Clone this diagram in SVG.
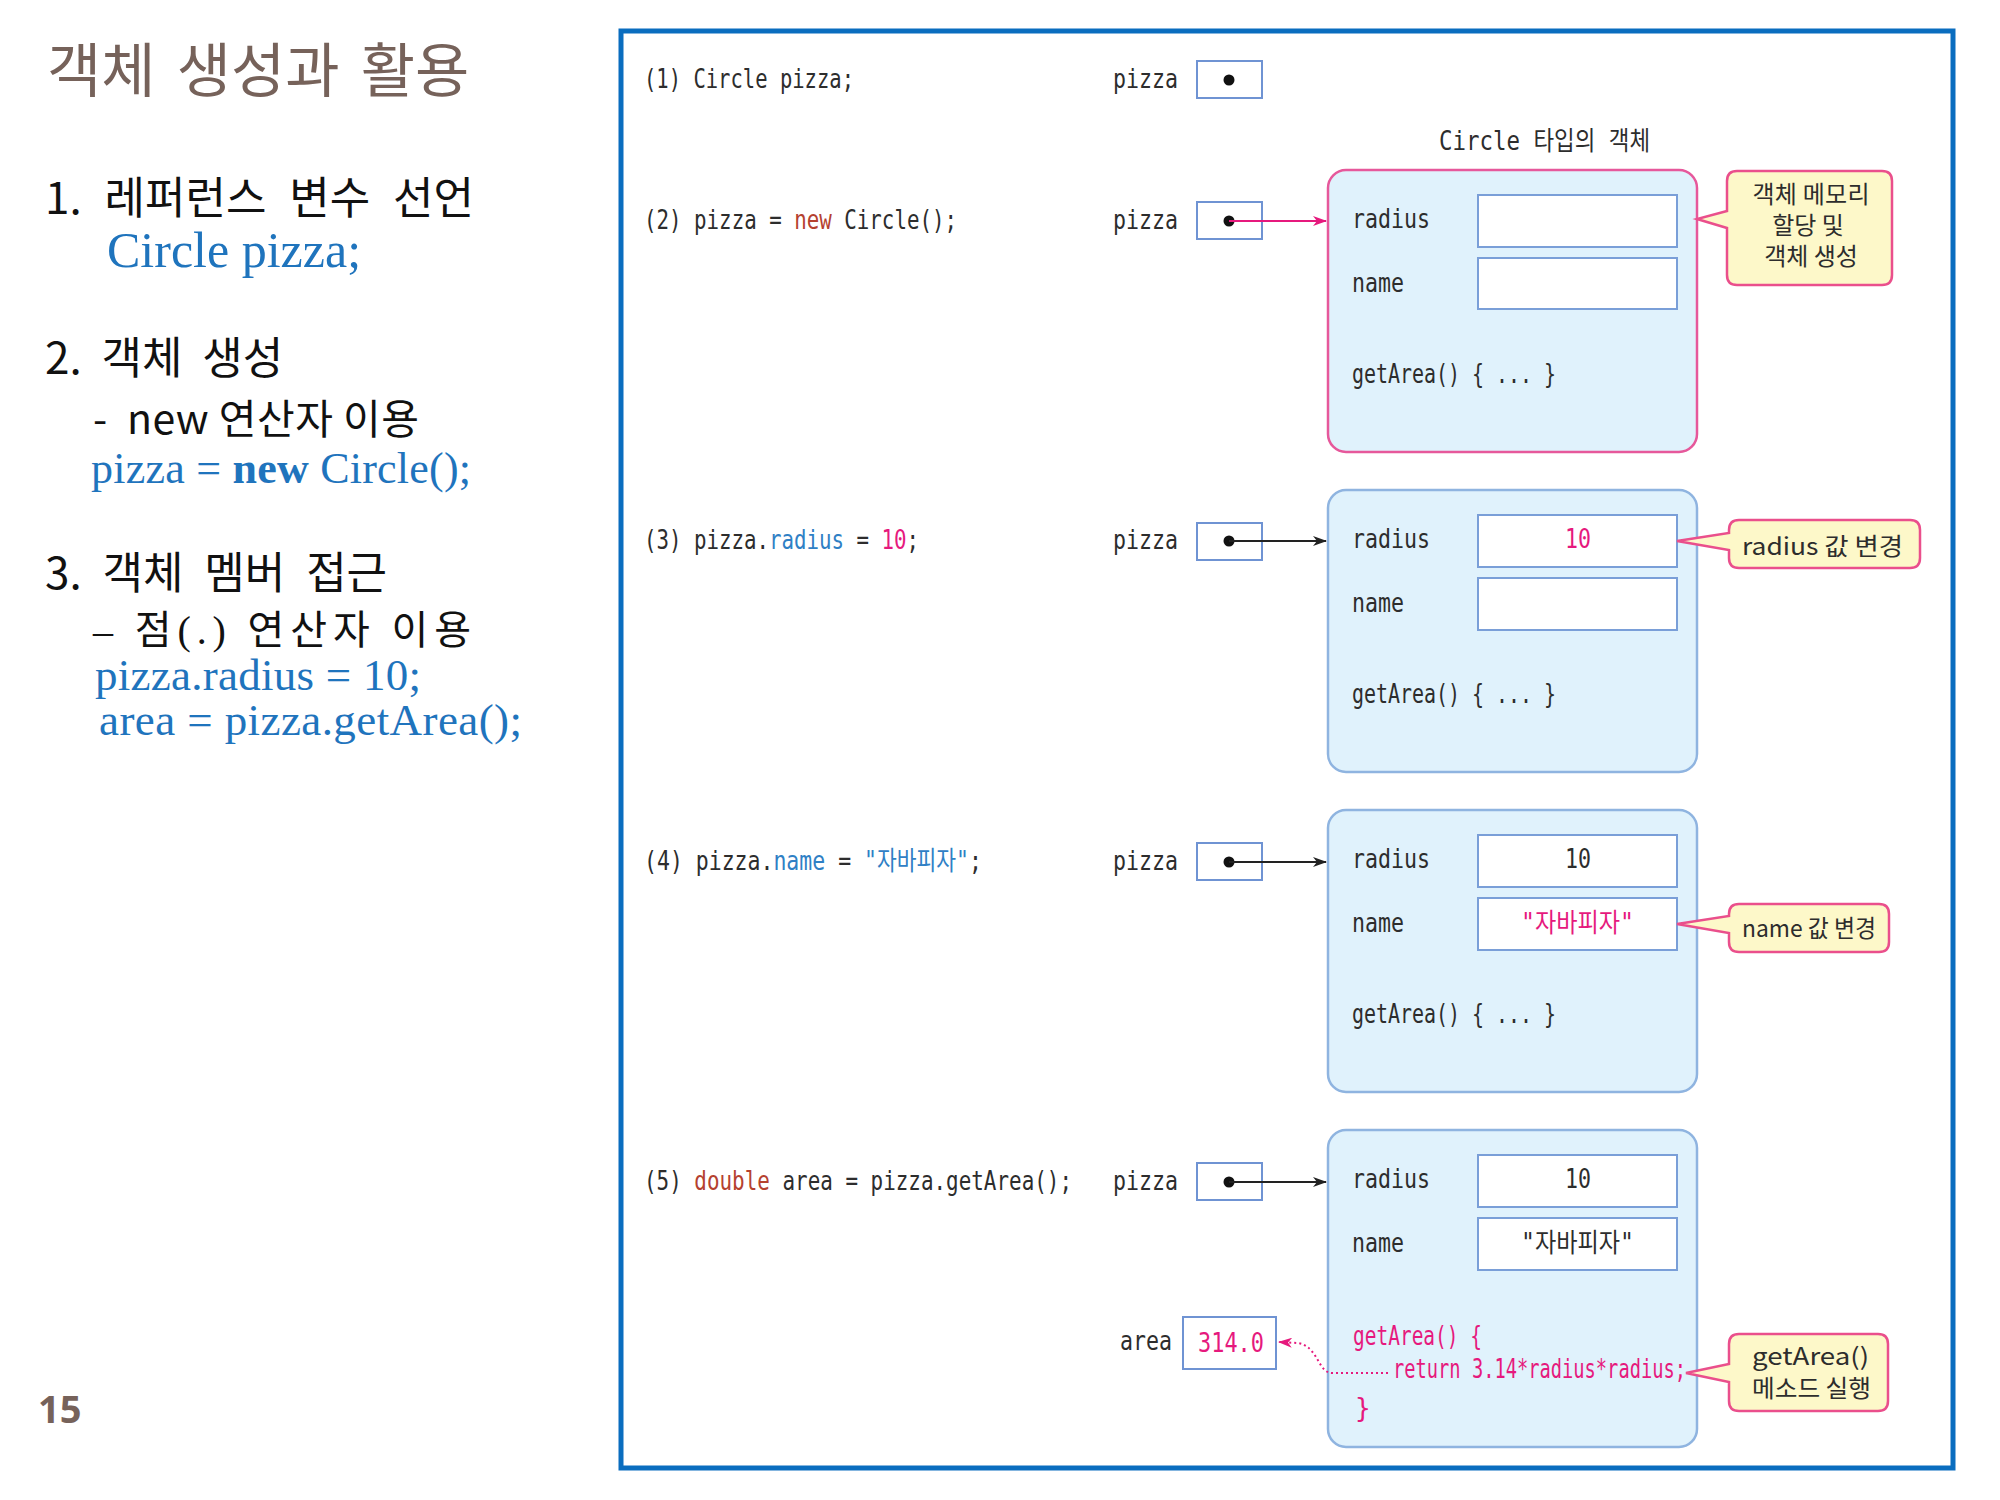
<svg xmlns="http://www.w3.org/2000/svg" width="2000" height="1500" viewBox="0 0 2000 1500">
<defs>
<style>
.title{font-family:"Noto Sans CJK KR","Noto Sans",sans-serif;font-size:59px;fill:#76625a}
.h{font-family:"Noto Sans CJK KR","Noto Sans",sans-serif;font-size:44px;fill:#111}
.sub{font-family:"Noto Sans CJK KR","Noto Sans",sans-serif;font-size:41px;fill:#111}
.subs{font-family:"Liberation Serif","Noto Sans CJK KR",serif;font-size:40px;fill:#111}
.jb{font-family:"Liberation Serif",serif;fill:#1f74bd}
.pg{font-family:"Noto Sans","Liberation Sans",sans-serif;font-size:38px;font-weight:bold;fill:#76625a}
.code{font-family:"DejaVu Sans Mono","Noto Sans CJK KR",monospace;font-size:26px;fill:#2d2d2d}
.ko{font-family:"Noto Sans CJK KR",sans-serif;font-size:24px;fill:#2d2d2d}
.kw{fill:#b5412f}
.fld{fill:#2f80c5}
.val{fill:#e6197d}
.ptr{fill:#fff;stroke:#6f93d3;stroke-width:2}
.field{fill:#fff;stroke:#7a9fd8;stroke-width:2}
.obj{fill:#e0f2fc;stroke:#8fb4e0;stroke-width:2.5}
.objnew{fill:#e0f2fc;stroke:#e6589b;stroke-width:2.5}
.call{fill:#fdf8c9;stroke:#ea4f8c;stroke-width:2.5}
</style>
<marker id="ahk" viewBox="0 0 14 10" refX="13" refY="5" markerWidth="14" markerHeight="10" markerUnits="userSpaceOnUse" orient="auto">
<path d="M0,0 L14,5 L0,10 L4,5 Z" fill="#222"/>
</marker>
<marker id="ahp" viewBox="0 0 14 10" refX="13" refY="5" markerWidth="14" markerHeight="10" markerUnits="userSpaceOnUse" orient="auto">
<path d="M0,0 L14,5 L0,10 L4,5 Z" fill="#e6197d"/>
</marker>
</defs>
<rect width="2000" height="1500" fill="#fff"/>

<g id="left-panel">
<text class="title" x="47" y="92" word-spacing="8">객체 생성과 활용</text>
<text class="h" x="45" y="214" word-spacing="13">1. 레퍼런스 변수 선언</text>
<text class="jb" x="107" y="267" font-size="50">Circle pizza;</text>
<text class="h" x="45" y="374" word-spacing="10">2. 객체 생성</text>
<text class="sub" x="93" y="434" textLength="326" xml:space="preserve">-  new 연산자 이용</text>
<text class="jb" x="91" y="483" font-size="44" textLength="380">pizza = <tspan font-weight="bold">new</tspan> Circle();</text>
<text class="h" x="45" y="589" word-spacing="11">3. 객체 멤버 접근</text>
<text class="subs" x="93" y="644" textLength="378">– 점(.) 연산자 이용</text>
<text class="jb" x="95" y="690" font-size="45" textLength="326">pizza.radius = 10;</text>
<text class="jb" x="99" y="735" font-size="45" textLength="423">area = pizza.getArea();</text>
<text class="pg" x="38" y="1423">15</text>
</g>

<rect id="frame" x="621" y="31" width="1332" height="1437" fill="none" stroke="#0a6dbf" stroke-width="5"/>

<g id="statements">
<text class="code" x="644" y="88" textLength="210" lengthAdjust="spacingAndGlyphs">(1) Circle pizza;</text>
<text class="code" x="644" y="229" textLength="313" lengthAdjust="spacingAndGlyphs">(2) pizza = <tspan class="kw">new</tspan> Circle();</text>
<text class="code" x="644" y="549" textLength="275" lengthAdjust="spacingAndGlyphs">(3) pizza.<tspan class="fld">radius</tspan> = <tspan class="val">10</tspan>;</text>
<text class="code" x="644" y="870" textLength="338" lengthAdjust="spacingAndGlyphs">(4) pizza.<tspan class="fld">name</tspan> = <tspan class="fld">"자바피자"</tspan>;</text>
<text class="code" x="644" y="1190" textLength="428" lengthAdjust="spacingAndGlyphs">(5) <tspan class="kw">double</tspan> area = pizza.getArea();</text>
</g>

<g id="ref1">
<text class="code" x="1113" y="88" textLength="65" lengthAdjust="spacingAndGlyphs">pizza</text>
<rect class="ptr" x="1197" y="61" width="65" height="37"/>
<circle cx="1229" cy="80" r="5.5" fill="#111"/>
</g>
<g id="ref2">
<text class="code" x="1113" y="229" textLength="65" lengthAdjust="spacingAndGlyphs">pizza</text>
<rect class="ptr" x="1197" y="202" width="65" height="37"/>
<circle cx="1229" cy="221" r="5.5" fill="#111"/>
</g>
<g id="ref3">
<text class="code" x="1113" y="549" textLength="65" lengthAdjust="spacingAndGlyphs">pizza</text>
<rect class="ptr" x="1197" y="523" width="65" height="37"/>
<circle cx="1229" cy="541" r="5.5" fill="#111"/>
</g>
<g id="ref4">
<text class="code" x="1113" y="870" textLength="65" lengthAdjust="spacingAndGlyphs">pizza</text>
<rect class="ptr" x="1197" y="843" width="65" height="37"/>
<circle cx="1229" cy="862" r="5.5" fill="#111"/>
</g>
<g id="ref5">
<text class="code" x="1113" y="1190" textLength="65" lengthAdjust="spacingAndGlyphs">pizza</text>
<rect class="ptr" x="1197" y="1163" width="65" height="37"/>
<circle cx="1229" cy="1182" r="5.5" fill="#111"/>
</g>
<g id="area-var">
<text class="code" x="1120" y="1350" textLength="52" lengthAdjust="spacingAndGlyphs">area</text>
<rect class="ptr" x="1183" y="1317" width="93" height="52"/>
<text class="code val" x="1198" y="1352" textLength="66" lengthAdjust="spacingAndGlyphs">314.0</text>
</g>

<text class="code" x="1439" y="150" textLength="211" lengthAdjust="spacingAndGlyphs">Circle 타입의 객체</text>

<g id="obj1">
<rect class="objnew" x="1328" y="170" width="369" height="282" rx="18"/>
<text class="code" x="1352" y="228" textLength="78" lengthAdjust="spacingAndGlyphs">radius</text>
<rect class="field" x="1478" y="195" width="199" height="52"/>
<text class="code" x="1352" y="292" textLength="52" lengthAdjust="spacingAndGlyphs">name</text>
<rect class="field" x="1478" y="258" width="199" height="51"/>
<text class="code" x="1352" y="383" textLength="204" lengthAdjust="spacingAndGlyphs">getArea() { ... }</text>
</g>
<g id="obj2">
<rect class="obj" x="1328" y="490" width="369" height="282" rx="18"/>
<text class="code" x="1352" y="548" textLength="78" lengthAdjust="spacingAndGlyphs">radius</text>
<rect class="field" x="1478" y="515" width="199" height="52"/>
<text class="code val" x="1565" y="548" textLength="26" lengthAdjust="spacingAndGlyphs">10</text>
<text class="code" x="1352" y="612" textLength="52" lengthAdjust="spacingAndGlyphs">name</text>
<rect class="field" x="1478" y="578" width="199" height="52"/>
<text class="code" x="1352" y="703" textLength="204" lengthAdjust="spacingAndGlyphs">getArea() { ... }</text>
</g>
<g id="obj3">
<rect class="obj" x="1328" y="810" width="369" height="282" rx="18"/>
<text class="code" x="1352" y="868" textLength="78" lengthAdjust="spacingAndGlyphs">radius</text>
<rect class="field" x="1478" y="835" width="199" height="52"/>
<text class="code" x="1565" y="868" textLength="26" lengthAdjust="spacingAndGlyphs">10</text>
<text class="code" x="1352" y="932" textLength="52" lengthAdjust="spacingAndGlyphs">name</text>
<rect class="field" x="1478" y="898" width="199" height="52"/>
<text class="code val" x="1521" y="932" textLength="113" lengthAdjust="spacingAndGlyphs">"자바피자"</text>
<text class="code" x="1352" y="1023" textLength="204" lengthAdjust="spacingAndGlyphs">getArea() { ... }</text>
</g>
<g id="obj4">
<rect class="obj" x="1328" y="1130" width="369" height="317" rx="18"/>
<text class="code" x="1352" y="1188" textLength="78" lengthAdjust="spacingAndGlyphs">radius</text>
<rect class="field" x="1478" y="1155" width="199" height="52"/>
<text class="code" x="1565" y="1188" textLength="26" lengthAdjust="spacingAndGlyphs">10</text>
<text class="code" x="1352" y="1252" textLength="52" lengthAdjust="spacingAndGlyphs">name</text>
<rect class="field" x="1478" y="1218" width="199" height="52"/>
<text class="code" x="1521" y="1252" textLength="113" lengthAdjust="spacingAndGlyphs">"자바피자"</text>
<text class="code val" x="1353" y="1345" textLength="129" lengthAdjust="spacingAndGlyphs">getArea() {</text>
<text class="code val" x="1393" y="1378" textLength="293" lengthAdjust="spacingAndGlyphs">return 3.14*radius*radius;</text>
<text class="code val" x="1355" y="1417">}</text>
</g>

<g id="callouts">
<g id="call1">
<path class="call" d="M1737,171 H1882 Q1892,171 1892,181 V275 Q1892,285 1882,285 H1737 Q1727,285 1727,275 V228 L1697,219 L1727,211 V181 Q1727,171 1737,171 Z"/>
<text class="ko" x="1811" y="203" text-anchor="middle" textLength="117">객체 메모리</text>
<text class="ko" x="1808" y="234" text-anchor="middle">할당 및</text>
<text class="ko" x="1811" y="265" text-anchor="middle">객체 생성</text>
</g>
<g id="call2">
<path class="call" d="M1739,520 H1910 Q1920,520 1920,530 V558 Q1920,568 1910,568 H1739 Q1729,568 1729,558 V550 L1677,541 L1729,533 V530 Q1729,520 1739,520 Z"/>
<text class="ko" x="1742" y="555" textLength="161" lengthAdjust="spacingAndGlyphs">radius 값 변경</text>
</g>
<g id="call3">
<path class="call" d="M1739,904 H1879 Q1889,904 1889,914 V942 Q1889,952 1879,952 H1739 Q1729,952 1729,942 V933 L1677,924 L1729,916 V914 Q1729,904 1739,904 Z"/>
<text class="ko" x="1742" y="937" textLength="134" lengthAdjust="spacingAndGlyphs">name 값 변경</text>
</g>
<g id="call4">
<path class="call" d="M1739,1334 H1878 Q1888,1334 1888,1344 V1401 Q1888,1411 1878,1411 H1739 Q1729,1411 1729,1401 V1382 L1686,1373 L1729,1364 V1344 Q1729,1334 1739,1334 Z"/>
<text class="ko" x="1752" y="1365" textLength="117" lengthAdjust="spacingAndGlyphs">getArea()</text>
<text class="ko" x="1752" y="1397" textLength="119" lengthAdjust="spacingAndGlyphs">메소드 실행</text>
</g>
</g>

<g id="connectors" fill="none">
<line x1="1229" y1="221" x2="1326" y2="221" stroke="#e6197d" stroke-width="2" marker-end="url(#ahp)"/>
<line x1="1229" y1="541" x2="1326" y2="541" stroke="#222" stroke-width="2" marker-end="url(#ahk)"/>
<line x1="1229" y1="862" x2="1326" y2="862" stroke="#222" stroke-width="2" marker-end="url(#ahk)"/>
<line x1="1229" y1="1182" x2="1326" y2="1182" stroke="#222" stroke-width="2" marker-end="url(#ahk)"/>
<path d="M1388,1373 H1332 C1318,1373 1318,1346 1298,1343 L1279,1342" stroke="#e6197d" stroke-width="2" stroke-dasharray="2,3" marker-end="url(#ahp)"/>
</g>
</svg>
